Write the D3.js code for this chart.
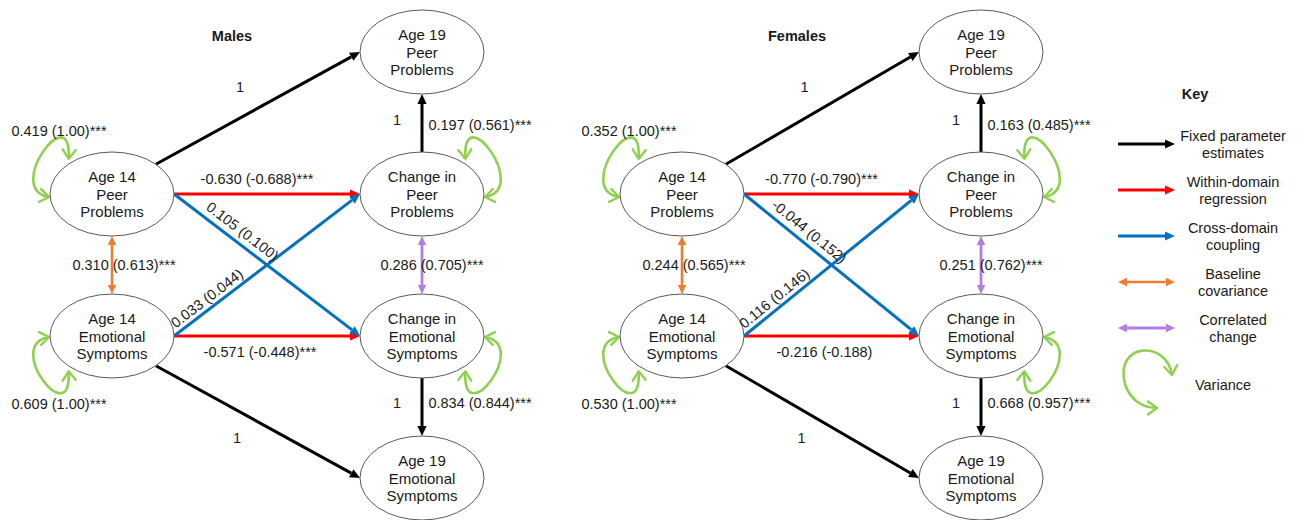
<!DOCTYPE html>
<html>
<head>
<meta charset="utf-8">
<script src="https://cdn.jsdelivr.net/npm/d3@7"></script>
<style>
  html, body { margin: 0; padding: 0; background: #ffffff; }
  svg { display: block; font-family: "Liberation Sans", Arial, sans-serif; }
</style>
</head>
<body>
<svg id="chart" width="1298" height="520"></svg>
<script>
// ---------------- DATA ----------------
const panelTitles = ["Males", "Females"];

const nodeIds    = ["pp19", "pp14", "ppChg", "es14", "esChg", "es19"];
const nodeLabels = [
  ["Age 19", "Peer", "Problems"],
  ["Age 14", "Peer", "Problems"],
  ["Change in", "Peer", "Problems"],
  ["Age 14", "Emotional", "Symptoms"],
  ["Change in", "Emotional", "Symptoms"],
  ["Age 19", "Emotional", "Symptoms"]
];
const nodeCol = ["t2", "t1", "t2", "t1", "t2", "t2"];
const nodeRow = ["r0", "r1", "r1", "r2", "r2", "r3"];

const pathIds   = ["varPP14", "varES14", "varPPChg", "varESChg", "cov14", "covChg",
                   "regPP", "regES", "crossPPES", "crossESPP",
                   "fixPP14", "fixES14", "fixPPChg", "fixESChg"];
const pathFrom  = ["pp14", "es14", "ppChg", "esChg", "pp14", "ppChg",
                   "pp14", "es14", "pp14", "es14",
                   "pp14", "es14", "ppChg", "esChg"];
const pathTo    = ["pp14", "es14", "ppChg", "esChg", "es14", "esChg",
                   "ppChg", "esChg", "esChg", "ppChg",
                   "pp19", "es19", "pp19", "es19"];
const pathType  = ["variance", "variance", "variance", "variance", "baseline", "correlated",
                   "within", "within", "cross", "cross",
                   "fixed", "fixed", "fixed", "fixed"];

const malesEstimates = ["0.419 (1.00)***", "0.609 (1.00)***", "0.197 (0.561)***", "0.834 (0.844)***",
                        "0.310 (0.613)***", "0.286 (0.705)***",
                        "-0.630 (-0.688)***", "-0.571 (-0.448)***", "0.105 (0.100)", "0.033 (0.044)",
                        "1", "1", "1", "1"];
const femalesEstimates = ["0.352 (1.00)***", "0.530 (1.00)***", "0.163 (0.485)***", "0.668 (0.957)***",
                          "0.244 (0.565)***", "0.251 (0.762)***",
                          "-0.770 (-0.790)***", "-0.216 (-0.188)", "-0.044 (0.152)", "0.116 (0.146)",
                          "1", "1", "1", "1"];

const keyTitle  = "Key";
const keyTypes  = ["fixed", "within", "cross", "baseline", "correlated", "variance"];
const keyLabels = [
  ["Fixed parameter", "estimates"],
  ["Within-domain", "regression"],
  ["Cross-domain", "coupling"],
  ["Baseline", "covariance"],
  ["Correlated", "change"],
  ["Variance"]
];

// ---------------- STYLE / LAYOUT ----------------
const typeColor = {
  fixed: "#000000", within: "#ff0000", cross: "#0070c0",
  baseline: "#ed7d31", correlated: "#b07fe0", variance: "#8fd14f"
};
const typeWidth = { fixed: 3, within: 3, cross: 3, baseline: 2.6, correlated: 2.8, variance: 2.6 };
const typeDouble = { baseline: true, correlated: true };

const RX = 62, RY = 42;
const FONT_EST = "14.5px", FONT_NODE = "15px";
const TEXT_COL = "#1a1a1a";

const colNames = ["t1", "t2"];
const rowNames = ["r0", "r1", "r2", "r3"];
const panelColRange = { Males: [112, 422], Females: [682, 981] };
const panelTitleX = { Males: 232, Females: 797 };
const yRow = d3.scalePoint().domain(rowNames).range([52, 478]);

// anchor angles on ellipse (degrees, 0 = east, 90 = north) and label placement per path
const pathGeom = {
  fixPP14:  { a0: 45,  a1: 180, lab: { mode: "mid", dx: -18, dy: -21 } },
  fixES14:  { a0: -45, a1: 180, lab: { mode: "mid", dx: -21, dy: 16 } },
  fixPPChg: { a0: 90,  a1: -90, lab: { mode: "mid", dx: -25, dy: -3 } },
  fixESChg: { a0: -90, a1: 90,  lab: { mode: "mid", dx: -25, dy: -4 } },
  regPP:    { a0: 0,   a1: 180, lab: { mode: "mid", dx: -10, dy: -15 } },
  regES:    { a0: 0,   a1: 180, lab: { mode: "mid", dx: -7,  dy: 16 } },
  crossPPES:{ a0: 0,   a1: 180, lab: { mode: "along", t: 0.33, off: 12 } },
  crossESPP:{ a0: 0,   a1: 180, lab: { mode: "along", t: 0.21, off: 10 } },
  cov14:    { a0: -90, a1: 90,  lab: { mode: "mid", dx: 12, dy: 0 } },
  covChg:   { a0: -90, a1: 90,  lab: { mode: "mid", dx: 10, dy: 0 } },
  varPP14:  { sx: -1, sy: -1, lab: { dx: -53, dy: -63 } },
  varES14:  { sx: -1, sy: 1,  lab: { dx: -53, dy: 68 } },
  varPPChg: { sx: 1,  sy: -1, lab: { dx: 58,  dy: -69 } },
  varESChg: { sx: 1,  sy: 1,  lab: { dx: 58,  dy: 67 } }
};

const svg = d3.select("#chart");

// ---------------- MARKERS ----------------
const defs = svg.append("defs");
Object.keys(typeColor).forEach(t => {
  if (t === "variance") {
    defs.append("marker")
      .attr("id", "m-" + t)
      .attr("markerUnits", "userSpaceOnUse")
      .attr("viewBox", "-11 -8 13 16")
      .attr("markerWidth", 13).attr("markerHeight", 16)
      .attr("refX", 0).attr("refY", 0)
      .attr("orient", "auto-start-reverse")
      .style("overflow", "visible")
      .append("path")
      .attr("d", "M-9,-6.5L0,0L-9,6.5")
      .attr("fill", "none")
      .attr("stroke", typeColor[t])
      .attr("stroke-width", 2.4)
      .attr("stroke-linejoin", "round")
      .attr("stroke-linecap", "round");
  } else {
    const small = typeDouble[t];
    const L = small ? 9 : 10, H = small ? 4.2 : 4.6;
    defs.append("marker")
      .attr("id", "m-" + t)
      .attr("markerUnits", "userSpaceOnUse")
      .attr("viewBox", `0 -6 ${L} 12`)
      .attr("markerWidth", L).attr("markerHeight", 12)
      .attr("refX", 0).attr("refY", 0)
      .attr("orient", "auto-start-reverse")
      .style("overflow", "visible")
      .append("path")
      .attr("d", `M0,${-H}L${L},0L0,${H}Z`)
      .attr("fill", typeColor[t]);
  }
});
const headLen = t => typeDouble[t] ? 9 : 10;

// ---------------- HELPERS ----------------
function ellPt(c, deg) {
  const r = deg * Math.PI / 180;
  return { x: c.x + RX * Math.cos(r), y: c.y - RY * Math.sin(r) };
}
function shorten(p0, p1, d0, d1) {
  const dx = p1.x - p0.x, dy = p1.y - p0.y, len = Math.hypot(dx, dy);
  const ux = dx / len, uy = dy / len;
  return [{ x: p0.x + ux * d0, y: p0.y + uy * d0 }, { x: p1.x - ux * d1, y: p1.y - uy * d1 }];
}
function loopPath(c, sx, sy) {
  const s = { x: c.x + sx * 0.70 * RX, y: c.y + sy * 0.84 * RY };
  const e = { x: c.x + sx * (RX + 1), y: c.y + (sy < 0 ? 3 : 1) };
  const p = d3.path();
  p.moveTo(s.x, s.y);
  p.bezierCurveTo(s.x - sx * 4, s.y + sy * 62, e.x + sx * 46, e.y + sy * 8, e.x, e.y);
  return p.toString();
}
function addText(g, x, y, txt, opts = {}) {
  return g.append("text")
    .attr("x", x).attr("y", y)
    .attr("text-anchor", opts.anchor || "middle")
    .attr("dominant-baseline", "central")
    .attr("font-size", opts.size || FONT_EST)
    .attr("font-weight", opts.weight || "normal")
    .attr("fill", TEXT_COL)
    .attr("transform", opts.rotate ? `rotate(${opts.rotate},${x},${y})` : null)
    .text(txt);
}

// ---------------- PANELS ----------------
panelTitles.forEach((title, pi) => {
  const estimates = pi === 0 ? malesEstimates : femalesEstimates;
  const xCol = d3.scalePoint().domain(colNames).range(panelColRange[title]);
  const centers = {};
  nodeIds.forEach((id, i) => { centers[id] = { x: xCol(nodeCol[i]), y: yRow(nodeRow[i]) }; });

  const g = svg.append("g").attr("class", "panel-" + title);
  const gEdges = g.append("g"), gNodes = g.append("g"), gLabels = g.append("g");

  addText(gLabels, panelTitleX[title], 36, title, { weight: "bold", size: "14.5px" });

  pathIds.forEach((pid, i) => {
    const t = pathType[i], geom = pathGeom[pid];
    const c0 = centers[pathFrom[i]], c1 = centers[pathTo[i]];
    const col = typeColor[t];
    if (t === "variance") {
      gEdges.append("path")
        .attr("d", loopPath(c0, geom.sx, geom.sy))
        .attr("fill", "none").attr("stroke", col)
        .attr("stroke-width", typeWidth[t])
        .attr("marker-start", `url(#m-${t})`)
        .attr("marker-end", `url(#m-${t})`);
      addText(gLabels, c0.x + geom.lab.dx, c0.y + geom.lab.dy, estimates[i]);
      return;
    }
    const p0 = ellPt(c0, geom.a0), p1 = ellPt(c1, geom.a1);
    const h = headLen(t);
    const [q0, q1] = shorten(p0, p1, typeDouble[t] ? h : 0, h);
    gEdges.append("line")
      .attr("x1", q0.x).attr("y1", q0.y).attr("x2", q1.x).attr("y2", q1.y)
      .attr("stroke", col).attr("stroke-width", typeWidth[t])
      .attr("marker-start", typeDouble[t] ? `url(#m-${t})` : null)
      .attr("marker-end", `url(#m-${t})`);
    const lab = geom.lab;
    if (lab.mode === "mid") {
      addText(gLabels, (p0.x + p1.x) / 2 + lab.dx, (p0.y + p1.y) / 2 + lab.dy, estimates[i]);
    } else {
      const dx = p1.x - p0.x, dy = p1.y - p0.y, len = Math.hypot(dx, dy);
      const nx = dy / len, ny = -dx / len;
      const x = p0.x + dx * lab.t + nx * lab.off, y = p0.y + dy * lab.t + ny * lab.off;
      addText(gLabels, x, y, estimates[i], { rotate: Math.atan2(dy, dx) * 180 / Math.PI });
    }
  });

  nodeIds.forEach((id, i) => {
    const c = centers[id];
    gNodes.append("ellipse")
      .attr("cx", c.x).attr("cy", c.y).attr("rx", RX).attr("ry", RY)
      .attr("fill", "#ffffff").attr("stroke", "#5a5a5a").attr("stroke-width", 1);
    nodeLabels[i].forEach((line, k) => {
      addText(gNodes, c.x, c.y + (k - 1) * 17.5, line, { size: FONT_NODE });
    });
  });
});

// ---------------- KEY ----------------
const gKey = svg.append("g").attr("class", "key");
addText(gKey, 1195, 94, keyTitle, { weight: "bold", size: "14.5px" });
const keyY = d3.scalePoint().domain(keyTypes.slice(0, 5)).range([144, 328]);
keyTypes.forEach((t, i) => {
  const col = typeColor[t];
  if (t === "variance") {
    const p = d3.path();
    p.moveTo(1172, 375);
    p.bezierCurveTo(1167, 340, 1114, 342, 1125, 384);
    p.bezierCurveTo(1130, 400, 1143, 408, 1157, 408);
    gKey.append("path").attr("d", p.toString())
      .attr("fill", "none").attr("stroke", col).attr("stroke-width", typeWidth[t])
      .attr("marker-start", `url(#m-${t})`).attr("marker-end", `url(#m-${t})`);
    addText(gKey, 1223, 385, keyLabels[i][0], { size: "14.5px" });
    return;
  }
  const y = keyY(t), h = headLen(t);
  const x0 = 1118, x1 = 1175;
  gKey.append("line")
    .attr("x1", typeDouble[t] ? x0 + h : x0).attr("y1", y)
    .attr("x2", x1 - h).attr("y2", y)
    .attr("stroke", col).attr("stroke-width", typeWidth[t])
    .attr("marker-start", typeDouble[t] ? `url(#m-${t})` : null)
    .attr("marker-end", `url(#m-${t})`);
  keyLabels[i].forEach((line, k) => {
    addText(gKey, 1233, y - 8.5 + k * 17.5, line, { size: "14.5px" });
  });
});
</script>
</body>
</html>
